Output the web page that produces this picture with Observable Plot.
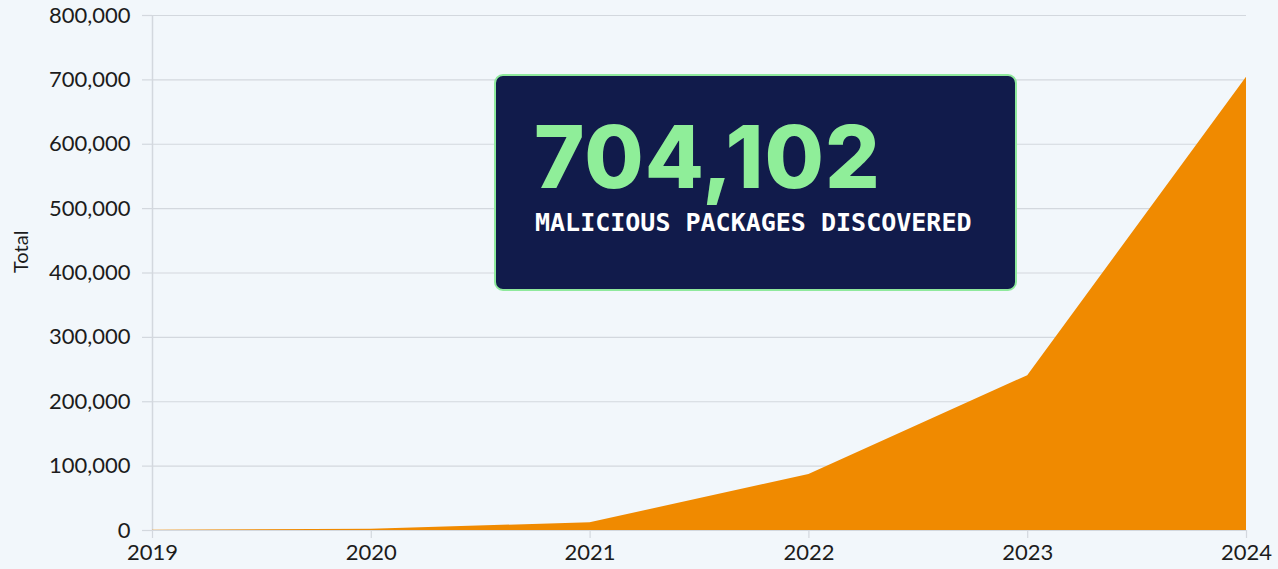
<!DOCTYPE html>
<html>
<head>
<meta charset="utf-8">
<script src="https://cdn.jsdelivr.net/npm/d3@7"></script>
<script src="https://cdn.jsdelivr.net/npm/@observablehq/plot@0.6"></script>
<style>
  html, body { margin: 0; padding: 0; background: #f2f7fb; }
  #wrap { position: relative; width: 1278px; height: 569px; overflow: hidden; }
  #box {
    position: absolute; left: 494px; top: 74px; width: 519px; height: 213px;
    background: #111b4b; border: 2px solid #8fe99c; border-radius: 9px;
  }
  #box svg { position: absolute; left: 0; top: 0; }
</style>
</head>
<body>
<div id="wrap"></div>
<script>
const years = [2019, 2020, 2021, 2022, 2023, 2024];
const totals = [300, 2000, 12000, 87000, 240500, 704102];
const yTicks = [0, 100000, 200000, 300000, 400000, 500000, 600000, 700000, 800000];
const headline = "704,102";
const headlineSub = "MALICIOUS PACKAGES DISCOVERED";

const data = years.map((year, i) => ({year, total: totals[i]}));
const fmt = d3.format(",");
const grid = "#d3d8de";
const font = "Lato, 'Open Sans', sans-serif";

const chart = Plot.plot({
  width: 1278,
  height: 569,
  marginLeft: 152,
  marginRight: 32,
  marginTop: 15,
  marginBottom: 39,
  style: {background: "#f2f7fb", fontFamily: font, overflow: "visible"},
  x: {domain: [2019, 2024], ticks: years},
  y: {domain: [0, 800000], ticks: yTicks},
  marks: [
    Plot.gridY(yTicks, {stroke: grid, strokeOpacity: 1, strokeWidth: 1.2}),
    Plot.axisY(yTicks, {tickSize: 10, tickPadding: 12, stroke: grid, strokeWidth: 1.2, fill: "#1c1c1c", fontSize: 22, tickFormat: fmt, label: null}),
    Plot.ruleX([2019], {stroke: grid, strokeWidth: 1.5}),
    Plot.areaY(data, {x: "year", y: "total", fill: "#f08a00", curve: "linear"}),
    Plot.axisX(years, {tickSize: 8, tickPadding: 6, stroke: grid, strokeWidth: 1.2, fill: "#1c1c1c", fontSize: 22, tickFormat: d => String(d), label: null}),
    Plot.text(["Total"], {frameAnchor: "left", dx: -131, rotate: -90, fontSize: 20, fill: "#1c1c1c"})
  ]
});

const wrap = document.getElementById("wrap");
wrap.appendChild(chart);

const box = document.createElement("div");
box.id = "box";
const ns = "http://www.w3.org/2000/svg";
const svg = document.createElementNS(ns, "svg");
svg.setAttribute("width", 519);
svg.setAttribute("height", 213);
const t1 = document.createElementNS(ns, "text");
t1.setAttribute("x", 38);
t1.setAttribute("y", 112);
t1.setAttribute("fill", "#8fee99");
t1.setAttribute("font-family", "Inter, 'DejaVu Sans', sans-serif");
t1.setAttribute("font-weight", "800");
t1.setAttribute("font-size", 86);
t1.setAttribute("letter-spacing", "1");
t1.textContent = headline;
const t2 = document.createElementNS(ns, "text");
t2.setAttribute("x", 39);
t2.setAttribute("y", 155);
t2.setAttribute("fill", "#ffffff");
t2.setAttribute("font-family", "'DejaVu Sans Mono', 'Liberation Mono', monospace");
t2.setAttribute("font-weight", "bold");
t2.setAttribute("font-size", 25);
t2.textContent = headlineSub;
svg.appendChild(t1);
svg.appendChild(t2);
box.appendChild(svg);
wrap.appendChild(box);
</script>
</body>
</html>
